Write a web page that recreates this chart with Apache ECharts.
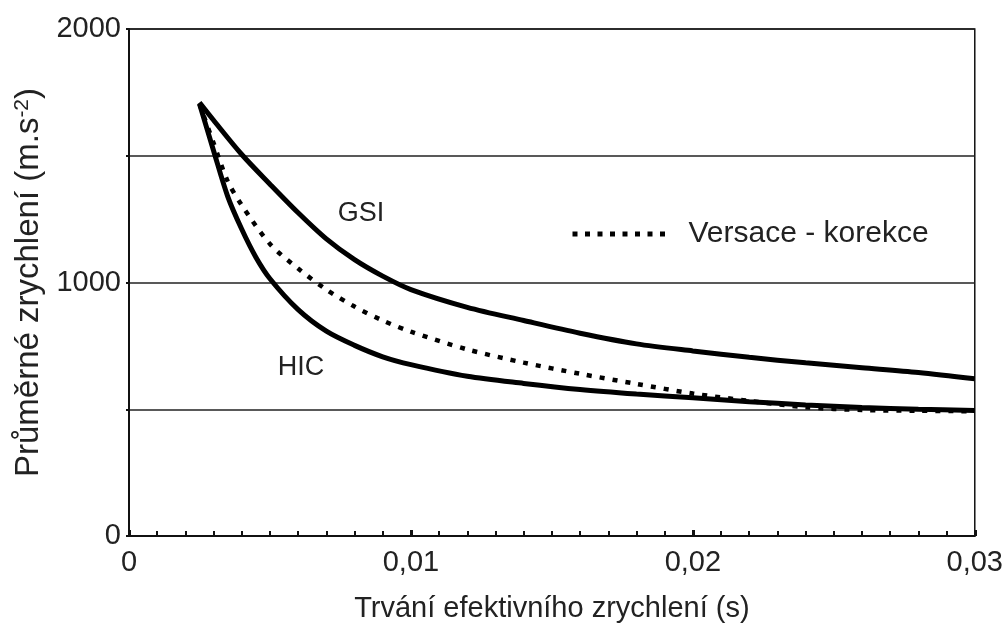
<!DOCTYPE html>
<html>
<head>
<meta charset="utf-8">
<script src="https://cdn.jsdelivr.net/npm/echarts@6/dist/echarts.min.js"></script>
<style>
  html, body { margin: 0; padding: 0; background: #fff; }
  #chart { width: 1006px; height: 632px; }
</style>
</head>
<body>
<div id="chart"></div>
<script>
// hodnoty: [trvání (s), průměrné zrychlení (m.s-2)]
const gsiData = [
  [0.0025, 1710], [0.003, 1640], [0.004, 1505], [0.005, 1388], [0.006, 1275],
  [0.007, 1172], [0.008, 1090], [0.009, 1025], [0.010, 972], [0.012, 902],
  [0.014, 850], [0.016, 800], [0.018, 758], [0.020, 730], [0.022, 705],
  [0.024, 683], [0.026, 664], [0.028, 645], [0.030, 620]
];
const hicData = [
  [0.0025, 1705], [0.003, 1520], [0.0035, 1340], [0.004, 1210], [0.0045, 1100],
  [0.005, 1015], [0.006, 893], [0.007, 808], [0.008, 752], [0.009, 707],
  [0.010, 676], [0.012, 630], [0.014, 602], [0.016, 578], [0.018, 560],
  [0.020, 545], [0.022, 530], [0.024, 517], [0.026, 507], [0.028, 500], [0.030, 495]
];
const versaceData = [
  [0.0025, 1705], [0.003, 1550], [0.0035, 1400], [0.004, 1305], [0.005, 1152],
  [0.006, 1055], [0.007, 972], [0.008, 905], [0.009, 850], [0.010, 806],
  [0.012, 736], [0.014, 684], [0.016, 640], [0.018, 600], [0.020, 562],
  [0.022, 533], [0.024, 508], [0.026, 497], [0.028, 494], [0.030, 492]
];
const yLabels = [0, 1000, 2000];

const font = 'Liberation Sans, Arial, sans-serif';
const chart = echarts.init(document.getElementById('chart'));

const option = {
  backgroundColor: '#fff',
  animation: false,
  grid: {
    left: 129, right: 31, top: 29, bottom: 96,
    show: true, borderColor: '#111', borderWidth: 1.5
  },
  legend: {
    data: ['Versace - korekce'],
    left: 565, top: 214,
    itemWidth: 97, itemHeight: 14,
    itemStyle: { opacity: 0 },
    lineStyle: { color: '#000', width: 5, type: [5, 7.5] },
    textStyle: { fontFamily: font, fontSize: 30, color: '#222', padding: [0, 0, 0, 14] }
  },
  xAxis: {
    type: 'value',
    min: 0, max: 0.03, interval: 0.01,
    name: 'Trvání efektivního zrychlení (s)',
    nameLocation: 'middle',
    nameGap: 58,
    nameTextStyle: { fontFamily: font, fontSize: 29, color: '#222' },
    axisLine: { lineStyle: { color: '#111', width: 2 } },
    axisTick: { inside: true, length: 6, lineStyle: { color: '#111', width: 3 } },
    minorTick: { show: true, splitNumber: 10, length: 5, lineStyle: { color: '#111', width: 2 } },
    splitLine: { show: false },
    axisLabel: {
      fontFamily: font, fontSize: 29, color: '#222', margin: 12,
      formatter: v => String(+v.toFixed(3)).replace('.', ',')
    }
  },
  yAxis: {
    type: 'value',
    min: 0, max: 2000, interval: 500,
    name: '{a|Průměrné zrychlení (m.s}{s|-2}{a|)}',
    nameLocation: 'middle',
    nameGap: 82,
    nameTextStyle: {
      padding: [0, 0, 0, 0],
      rich: {
        a: { fontFamily: font, fontSize: 33, color: '#222' },
        s: { fontFamily: font, fontSize: 21, color: '#222', padding: [0, 0, 14, 0] }
      }
    },
    axisLine: { show: true, lineStyle: { color: '#111', width: 2 } },
    axisTick: { show: true, length: 3, lineStyle: { color: '#111', width: 2 } },
    splitLine: { show: true, lineStyle: { color: '#222', width: 1.5 } },
    axisLabel: {
      fontFamily: font, fontSize: 29, color: '#222', margin: 8,
      formatter: v => (yLabels.indexOf(v) >= 0 ? String(v) : '')
    }
  },
  series: [
    {
      name: 'GSI', type: 'line', data: gsiData, smooth: 0.3, symbol: 'none',
      lineStyle: { color: '#000', width: 5 },
      markPoint: {
        symbol: 'circle', symbolSize: 0,
        label: { show: true, formatter: 'GSI', fontFamily: font, fontSize: 27, color: '#222' },
        data: [{ coord: [0.00823, 1271] }]
      }
    },
    {
      name: 'HIC', type: 'line', data: hicData, smooth: 0.3, symbol: 'none',
      lineStyle: { color: '#000', width: 5 },
      markPoint: {
        symbol: 'circle', symbolSize: 0,
        label: { show: true, formatter: 'HIC', fontFamily: font, fontSize: 27, color: '#222' },
        data: [{ coord: [0.0061, 663] }]
      }
    },
    {
      name: 'Versace - korekce', type: 'line', data: versaceData, smooth: 0.3, symbol: 'none',
      lineStyle: { color: '#000', width: 4.5, type: [5, 8] }
    }
  ]
};

chart.setOption(option);
</script>
</body>
</html>
